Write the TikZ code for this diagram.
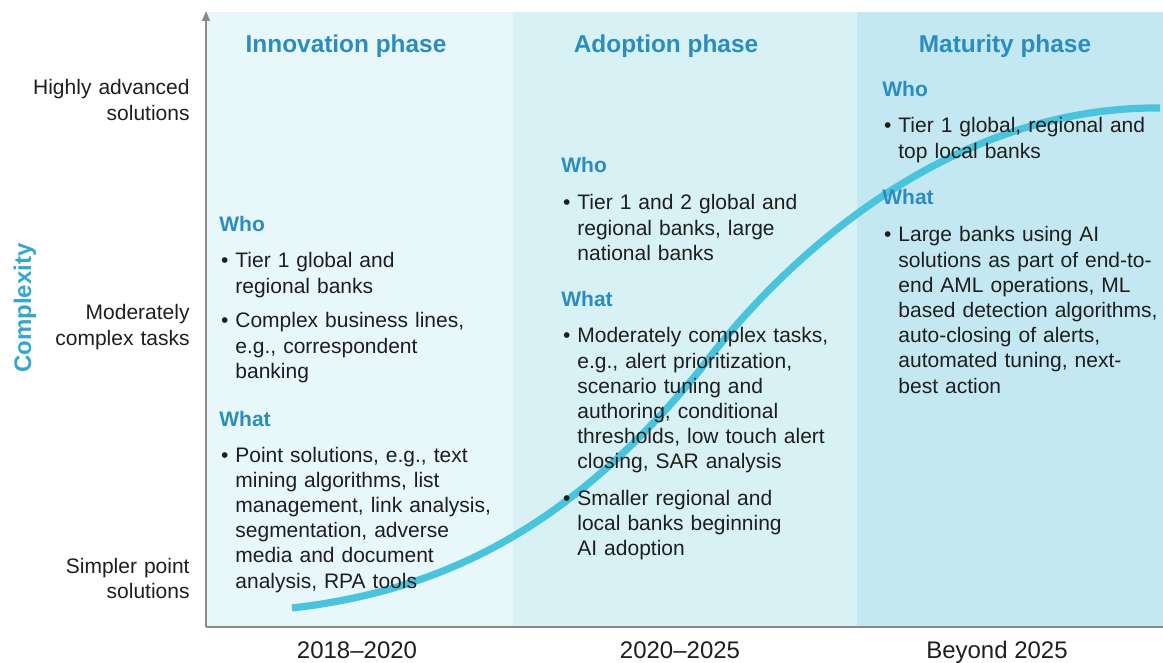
\documentclass[tikz,border=0pt]{standalone}
\usepackage{fontspec}
\setmainfont{Liberation Sans}
\usepackage{xcolor}
\usetikzlibrary{arrows.meta}

\definecolor{innovfill}{HTML}{E8F7F9}
\definecolor{adoptfill}{HTML}{D8F1F4}
\definecolor{maturefill}{HTML}{C3E8F1}
\definecolor{headblue}{HTML}{2B8DBF}
\definecolor{axisblue}{HTML}{35A6CE}
\definecolor{curveblue}{HTML}{4AC3DD}
\definecolor{axisgray}{HTML}{8A8A8A}
\definecolor{bodytext}{HTML}{1E1E1E}

\newcommand{\bulletmark}{\llap{\textbullet\hspace{3.5pt}}}

\tikzset{
    phase/.style={font=\fontsize{12.2}{14}\selectfont\bfseries, text=headblue, anchor=base, inner sep=0},
    tag/.style={font=\fontsize{10.5}{12.6}\selectfont\bfseries, text=headblue, anchor=base west, inner sep=0},
    entry/.style={font=\fontsize{10.5}{12.6}\selectfont, text=bodytext, text width=150pt, align=left, anchor=base west, inner sep=0},
    level/.style={font=\fontsize{10.5}{12.6}\selectfont, text=bodytext, text width=90pt, align=right, anchor=base east, inner sep=0},
    year/.style={font=\fontsize{12}{14}\selectfont, text=bodytext, anchor=base, inner sep=0},
    axis/.style={draw=axisgray, line width=0.6pt},
    curve/.style={draw=curveblue, line width=3.6pt}
}

\begin{document}
\begin{tikzpicture}[x=0.5pt, y=-0.5pt]
    \useasboundingbox (0,0) rectangle (1163,663);

    % phase panels
    \fill[innovfill] (206,12) rectangle (513,627);
    \fill[adoptfill] (513,12) rectangle (857,627);
    \fill[maturefill] (857,12) rectangle (1163,627);

    % axes
    \coordinate (origin) at (206,627);
    \coordinate (ytop) at (206,11);
    \coordinate (xend) at (1163,627);
    \draw [axis, -{Triangle[length=5pt, width=4pt]}] (origin) -- (ytop);
    \draw [axis] (origin) -- (xend);

    % s-curve
    \coordinate (cstart) at (292,608);
    \coordinate (cmid) at (700,370);
    \coordinate (cend) at (1160,108);
    \draw [curve] (cstart) .. controls (450,590) and (575,522) .. (cmid)
        .. controls (790,250) and (955,106) .. (cend);

    % axis labels
    \node [font=\fontsize{12}{14}\selectfont\bfseries, text=axisblue, rotate=90, inner sep=0] (complexity) at (25,308) {Complexity};
    \node [level] (high) at (190,95) {Highly advanced\\solutions};
    \node [level] (moderate) at (190,320) {Moderately\\complex tasks};
    \node [level] (simple) at (190,573) {Simpler point\\solutions};

    \node [year] (y1) at (357,658) {2018--2020};
    \node [year] (y2) at (680,658) {2020--2025};
    \node [year] (y3) at (997,658) {Beyond 2025};

    % innovation phase
    \node [phase] (innovhead) at (346,53) {Innovation phase};
    \node [tag] (innovwho) at (219,232) {Who};
    \node [entry] (innovwho1) at (235,268) {\bulletmark Tier 1 global and\\regional banks};
    \node [entry] (innovwho2) at (235,328) {\bulletmark Complex business lines,\\e.g., correspondent\\banking};
    \node [tag] (innovwhat) at (219,427) {What};
    \node [entry] (innovwhat1) at (235,462) {\bulletmark Point solutions, e.g., text\\mining algorithms, list\\management, link analysis,\\segmentation, adverse\\media and document\\analysis, RPA tools};

    % adoption phase
    \node [phase] (adopthead) at (666,53) {Adoption phase};
    \node [tag] (adoptwho) at (561,173) {Who};
    \node [entry] (adoptwho1) at (577,210) {\bulletmark Tier 1 and 2 global and\\regional banks, large\\national banks};
    \node [tag] (adoptwhat) at (561,307) {What};
    \node [entry] (adoptwhat1) at (577,343) {\bulletmark Moderately complex tasks,\\e.g., alert prioritization,\\scenario tuning and\\authoring, conditional\\thresholds, low touch alert\\closing, SAR analysis};
    \node [entry] (adoptwhat2) at (577,505) {\bulletmark Smaller regional and\\local banks beginning\\AI adoption};

    % maturity phase
    \node [phase] (maturehead) at (1005,53) {Maturity phase};
    \node [tag] (maturewho) at (882,97) {Who};
    \node [entry] (maturewho1) at (898,133) {\bulletmark Tier 1 global, regional and\\top local banks};
    \node [tag] (maturewhat) at (882,205) {What};
    \node [entry] (maturewhat1) at (898,242) {\bulletmark Large banks using AI\\solutions as part of end-to-\\end AML operations, ML\\based detection algorithms,\\auto-closing of alerts,\\automated tuning, next-\\best action};
\end{tikzpicture}
\end{document}
